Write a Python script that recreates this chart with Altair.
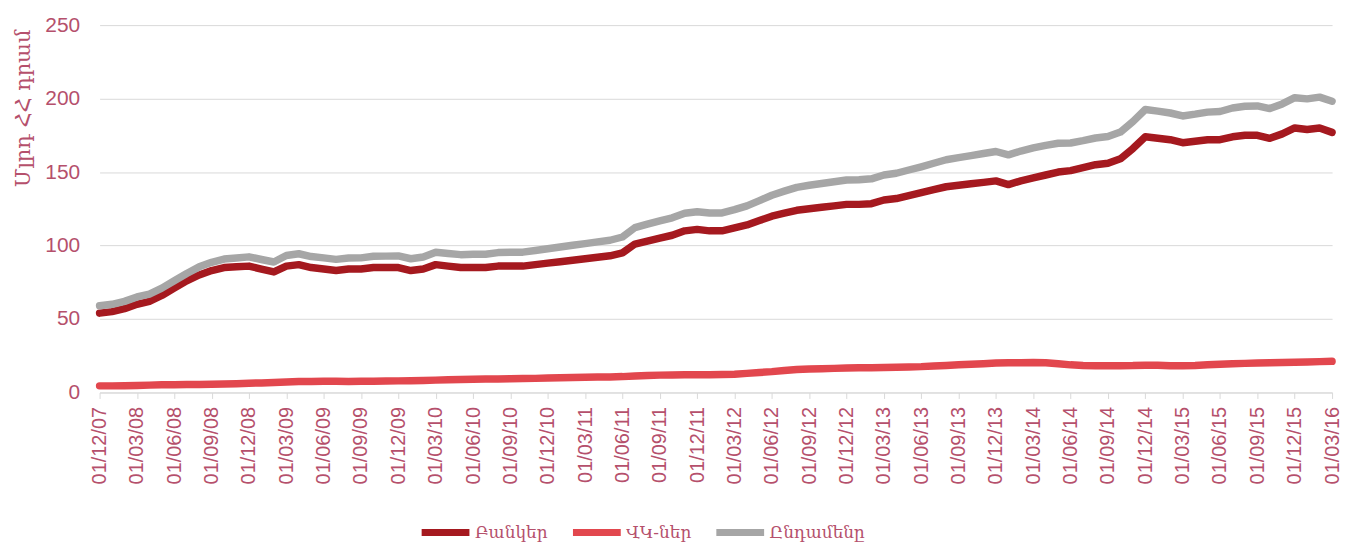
import altair as alt
import pandas as pd

# Monthly observation dates (01/MM/YY), Dec 2007 .. Mar 2016
dates = pd.date_range("2007-12-01", "2016-03-01", freq="MS").strftime("%d/%m/%y").tolist()

tick_labels = [
    "01/12/07", "01/03/08", "01/06/08", "01/09/08", "01/12/08", "01/03/09", "01/06/09",
    "01/09/09", "01/12/09", "01/03/10", "01/06/10", "01/09/10", "01/12/10", "01/03/11",
    "01/06/11", "01/09/11", "01/12/11", "01/03/12", "01/06/12", "01/09/12", "01/12/12",
    "01/03/13", "01/06/13", "01/09/13", "01/12/13", "01/03/14", "01/06/14", "01/09/14",
    "01/12/14", "01/03/15", "01/06/15", "01/09/15", "01/12/15", "01/03/16",
]

series_names = ["Բանկեր", "ՎԿ-ներ", "Ընդամենը"]

banks = [
    54, 55, 57, 60, 62, 66, 71, 76, 80, 83, 85, 85.5, 86, 84, 82, 86, 87, 85, 84, 83,
    84, 84, 85, 85, 85, 83, 84, 87, 86, 85, 85, 85, 86, 86, 86, 87, 88, 89, 90, 91,
    92, 93, 95, 101, 103, 105, 107, 110, 111, 110, 110, 112, 114, 117, 120, 122, 124, 125, 126, 127,
    128, 128, 128.5, 131, 132, 134, 136, 138, 140, 141, 142, 143, 144, 141.5, 144, 146, 148, 150, 151, 153,
    155, 156, 159, 166, 174, 173, 172, 170, 171, 172, 172, 174, 175, 175, 173, 176, 180, 179, 180, 177,
]

vk = [
    4.5, 4.5, 4.6, 4.8, 5.0, 5.2, 5.3, 5.4, 5.5, 5.6, 5.8, 6.0, 6.3, 6.5, 6.8, 7.2, 7.4, 7.5, 7.6, 7.6,
    7.5, 7.6, 7.7, 7.8, 7.9, 8.0, 8.2, 8.4, 8.6, 8.8, 9.0, 9.1, 9.2, 9.4, 9.5, 9.6, 9.8, 10.0, 10.2, 10.3,
    10.5, 10.6, 10.8, 11.2, 11.6, 11.8, 11.9, 12.0, 12.0, 12.1, 12.2, 12.4, 13.0, 13.6, 14.2, 15.0, 15.6, 16.0, 16.2, 16.4,
    16.6, 16.8, 16.9, 17.0, 17.2, 17.4, 17.6, 18.0, 18.4, 18.8, 19.2, 19.6, 20.0, 20.2, 20.3, 20.4, 20.2, 19.6, 18.8, 18.4,
    18.2, 18.2, 18.2, 18.3, 18.6, 18.5, 18.2, 18.2, 18.4, 18.8, 19.2, 19.6, 19.8, 20.0, 20.2, 20.4, 20.6, 20.8, 21.0, 21.2,
]

total = [
    59, 60, 62, 65, 67, 71, 76, 81, 85.5, 88.6, 90.8, 91.5, 92.3, 90.5, 88.8, 93.2, 94.4, 92.5, 91.6, 90.6,
    91.5, 91.6, 92.7, 92.8, 92.9, 91, 92.2, 95.4, 94.6, 93.8, 94, 94.1, 95.2, 95.4, 95.5, 96.6, 97.8, 99, 100.2, 101.3,
    102.5, 103.6, 105.8, 112.2, 114.6, 116.8, 118.9, 122, 123, 122.1, 122.2, 124.4, 127, 130.6, 134.2, 137, 139.6, 141, 142.2, 143.4,
    144.6, 144.8, 145.4, 148, 149.2, 151.4, 153.6, 156, 158.4, 159.8, 161.2, 162.6, 164, 161.7, 164.3, 166.4, 168.2, 169.6, 169.8, 171.4,
    173.2, 174.2, 177.2, 184.3, 192.6, 191.5, 190.2, 188.2, 189.4, 190.8, 191.2, 193.6, 194.8, 195, 193.2, 196.4, 200.6, 199.8, 201, 198.2,
]

colors = ["#a5191f", "#e2474e", "#a6a6a6"]

rows = []
for name, vals in zip(series_names, [banks, vk, total]):
    for d, v in zip(dates, vals):
        rows.append({"date": d, "series": name, "value": v})
df = pd.DataFrame(rows)

text_color = "#b5506c"

chart = (
    alt.Chart(df)
    .mark_line(strokeWidth=7.5, strokeCap="round", strokeJoin="round")
    .encode(
        x=alt.X(
            "date:O",
            sort=dates,
            scale=alt.Scale(type="point", padding=0),
            axis=alt.Axis(
                values=tick_labels,
                title=None,
                labelAngle=270,
                labelAlign="right",
                labelBaseline="middle",
                labelFont="Liberation Sans",
                labelFontSize=20,
                labelColor=text_color,
                labelPadding=8,
                tickSize=6,
                tickColor="#d9d9d9",
                domainColor="#d9d9d9",
                grid=False,
                labelOverlap=False,
            ),
        ),
        y=alt.Y(
            "value:Q",
            scale=alt.Scale(domain=[0, 250]),
            axis=alt.Axis(
                values=[0, 50, 100, 150, 200, 250],
                title="Մլրդ ՀՀ դրամ",
                titleFont="DejaVu Serif",
                titleFontSize=21,
                titleFontWeight="normal",
                titleColor=text_color,
                titleAngle=270,
                titleAlign="right",
                titleBaseline="middle",
                titleX=-76,
                titleY=4,
                labelFont="Liberation Sans",
                labelFontSize=21,
                labelColor=text_color,
                labelPadding=20,
                ticks=False,
                tickSize=0,
                domain=False,
                grid=True,
                gridColor="#d9d9d9",
                gridWidth=1,
            ),
        ),
        color=alt.Color(
            "series:N",
            sort=series_names,
            scale=alt.Scale(domain=series_names, range=colors),
            legend=alt.Legend(
                title=None,
                orient="none",
                legendX=320,
                legendY=482,
                direction="horizontal",
                symbolType="stroke",
                symbolSize=2304,
                symbolStrokeWidth=7,
                labelFont="DejaVu Serif",
                labelFontSize=17,
                labelColor=text_color,
                labelOffset=2,
                columnPadding=10,
            ),
        ),
        order=alt.Order("series:N"),
    )
    .properties(
        width=1238,
        height=369,
        autosize=alt.AutoSizeParams(type="none"),
        padding={"left": 92, "top": 16, "right": 15, "bottom": 150},
    )
    .configure_view(stroke=None)
)

chart.save("out.html", embed_options={"renderer": "svg", "actions": False})
